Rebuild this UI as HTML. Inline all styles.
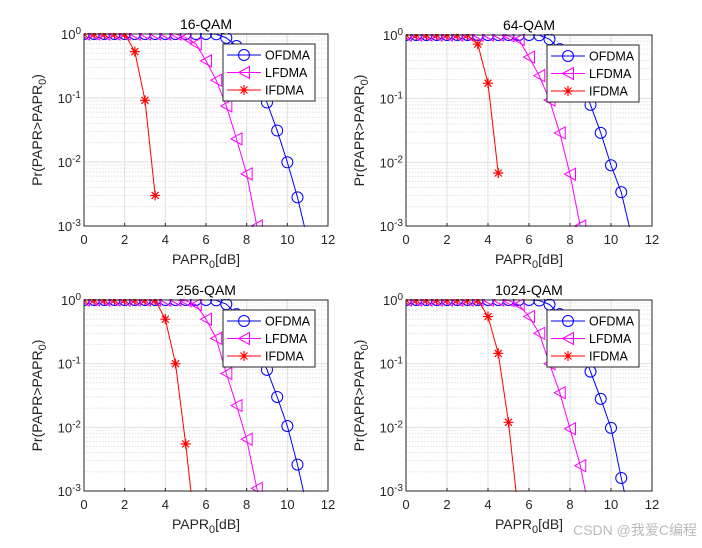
<!DOCTYPE html>
<html><head><meta charset="utf-8"><style>
html,body{margin:0;padding:0;background:#fff;}
svg{display:block;font-family:"Liberation Sans","Noto Sans CJK SC",sans-serif;}
</style></head><body>
<svg id="chart" width="702" height="548" viewBox="0 0 702 548" xmlns="http://www.w3.org/2000/svg"></svg>
<script>
const xVals = [0,0.5,1,1.5,2,2.5,3,3.5,4,4.5,5,5.5,6,6.5,7,7.5,8,8.5,9,9.5,10,10.5,11];
const titles = ["16-QAM","64-QAM","256-QAM","1024-QAM"];
const seriesNames = ["OFDMA","LFDMA","IFDMA"];
const ofdma16 = [1,1,1,1,1,1,1,1,1,1,1,1,1,0.99,0.87,0.65,0.42,0.2,0.085,0.031,0.0099,0.0028,0.0006];
const lfdma16 = [1,1,1,1,1,1,1,1,1,1,0.88,0.7,0.38,0.19,0.075,0.023,0.0065,0.001];
const ifdma16 = [1,1,1,1,1,0.53,0.092,0.003];
const ofdma64 = [1,1,1,1,1,1,1,1,1,1,1,1,1,0.99,0.86,0.6,0.4,0.2,0.08,0.029,0.009,0.0034,0.0007];
const lfdma64 = [1,1,1,1,1,1,1,1,1,1,0.97,0.85,0.45,0.23,0.095,0.029,0.0065,0.001];
const ifdma64 = [1,1,1,1,1,1,1,0.72,0.175,0.0068];
const ofdma256 = [1,1,1,1,1,1,1,1,1,1,1,1,1,0.99,0.86,0.6,0.4,0.2,0.08,0.03,0.0105,0.0026,0.0005];
const lfdma256 = [1,1,1,1,1,1,1,1,1,1,0.97,0.85,0.5,0.25,0.07,0.022,0.0065,0.0011,0.0002];
const ifdma256 = [1,1,1,1,1,1,1,1,0.5,0.1,0.0055,0.0002];
const ofdma1024 = [1,1,1,1,1,1,1,1,1,1,1,1,1,0.98,0.85,0.6,0.38,0.19,0.075,0.028,0.0098,0.0016,0.0003];
const lfdma1024 = [1,1,1,1,1,1,1,1,1,1,0.98,0.85,0.55,0.3,0.1,0.035,0.0095,0.0025,0.0004];
const ifdma1024 = [1,1,1,1,1,1,1,1,0.55,0.145,0.012,0.0004];
const xTicks = [0,2,4,6,8,10,12];
const yExps = [0,-1,-2,-3];

const panels = [
 {x0:84,x1:328,y0:34,y1:226,data:[ofdma16,lfdma16,ifdma16]},
 {x0:406,x1:652,y0:35,y1:226,data:[ofdma64,lfdma64,ifdma64]},
 {x0:84,x1:328,y0:300,y1:491,data:[ofdma256,lfdma256,ifdma256]},
 {x0:406,x1:652,y0:300,y1:491,data:[ofdma1024,lfdma1024,ifdma1024]}
];
const colors = ["#0000ff","#ff00ff","#ff0000"];
const NS = "http://www.w3.org/2000/svg";
const svg = document.getElementById('chart');
function mk(tag, attrs, parent){const e=document.createElementNS(NS,tag);for(const k in attrs)e.setAttribute(k,attrs[k]);(parent||svg).appendChild(e);return e;}

function marker(g, kind, cx, cy, col){
  let m;
  if(kind===0){m=mk('circle',{cx:cx,cy:cy,r:5.5,fill:'none',stroke:col,'stroke-width':1},g);}
  else if(kind===1){m=mk('polygon',{points:`${cx-5.5},${cy} ${cx+5.5},${cy-6} ${cx+5.5},${cy+6}`,fill:'none',stroke:col,'stroke-width':1},g);}
  else {m=mk('path',{d:`M${cx-5} ${cy}H${cx+5}M${cx} ${cy-5}V${cy+5}M${cx-3.5} ${cy-3.5}L${cx+3.5} ${cy+3.5}M${cx-3.5} ${cy+3.5}L${cx+3.5} ${cy-3.5}`,stroke:col,'stroke-width':1.2},g);}
  
  
}

panels.forEach((p,pi)=>{
  const xs = v=>p.x0+(v/12)*(p.x1-p.x0);
  const ys = v=>p.y0+(-Math.log10(v)/3)*(p.y1-p.y0);
  const g = mk('g',{});
  
  
  const cid='clip'+pi;
  const cp=mk('clipPath',{id:cid},g);
  mk('rect',{x:p.x0,y:p.y0-1,width:p.x1-p.x0,height:p.y1-p.y0+2},cp);
  mk('rect',{x:p.x0,y:p.y0,width:p.x1-p.x0,height:p.y1-p.y0,fill:'#fff'},g);
  for(let e=0;e>-3;e--){for(let k=2;k<=9;k++){const y=ys(k*Math.pow(10,e-1));
    const l=mk('line',{x1:p.x0,x2:p.x1,y1:y,y2:y,stroke:'#dcdcdc','stroke-width':0.8,'stroke-dasharray':'1.5,1.5'},g);
    }}
  xTicks.forEach(t=>{const x=xs(t);
    const l=mk('line',{x1:x,x2:x,y1:p.y0,y2:p.y1,stroke:'#dfdfdf','stroke-width':1},g);
    
    mk('line',{x1:x,x2:x,y1:p.y1,y2:p.y1-3,stroke:'#262626'},g);
    const tx=mk('text',{x:x,y:p.y1+18,'text-anchor':'middle','font-size':13,fill:'#262626'},g);tx.textContent=t;
    });
  yExps.forEach(e=>{const y=ys(Math.pow(10,e));
    const l=mk('line',{x1:p.x0,x2:p.x1,y1:y,y2:y,stroke:'#dfdfdf','stroke-width':1},g);
    
    const tx=mk('text',{x:p.x0-3,y:y+5,'text-anchor':'end','font-size':13,fill:'#262626'},g);
    tx.innerHTML='10<tspan dy="-5" font-size="10">'+e+'</tspan>';
    });
  p.data.forEach((arr,si)=>{
    const sg=mk('g',{'clip-path':`url(#${cid})`},g);
    
    
    const pts=arr.map((v,i)=>xs(xVals[i]).toFixed(2)+','+ys(v).toFixed(2)).join(' ');
    mk('polyline',{points:pts,fill:'none',stroke:colors[si],'stroke-width':1},sg);
    arr.forEach((v,i)=>{if(v>=0.00095) marker(sg,si,xs(xVals[i]),ys(v),colors[si]);});
  });
  const fr=mk('rect',{x:p.x0,y:p.y0,width:p.x1-p.x0,height:p.y1-p.y0,fill:'none',stroke:'#262626','stroke-width':1},g);
  
  const tt=mk('text',{x:(p.x0+p.x1)/2,y:p.y0-5,'text-anchor':'middle','font-size':14,fill:'#000'},g);
  tt.textContent=titles[pi];
  const xl=mk('text',{x:(p.x0+p.x1)/2,y:p.y1+38,'text-anchor':'middle','font-size':14,fill:'#262626'},g);
  xl.innerHTML='PAPR<tspan dy="4" font-size="11">0</tspan><tspan dy="-4">[dB]</tspan>';
  
  const yl=mk('text',{transform:`translate(${p.x0-42},${(p.y0+p.y1)/2}) rotate(-90)`,'text-anchor':'middle','font-size':14,fill:'#262626'},g);
  yl.innerHTML='Pr(PAPR&gt;PAPR<tspan dy="4" font-size="11">0</tspan><tspan dy="-4">)</tspan>';
  
  const lx=p.x1-105, ly=p.y0+10;
  const lg=mk('g',{},g);
  
  mk('rect',{x:lx,y:ly,width:92,height:57,fill:'#fff',stroke:'#262626','stroke-width':1},lg);
  seriesNames.forEach((n,si)=>{const yy=ly+11+si*17.5;
    const eg=mk('g',{},lg);
    
    mk('line',{x1:lx+4,x2:lx+38,y1:yy,y2:yy,stroke:colors[si],'stroke-width':1},eg);
    marker(eg,si,lx+21,yy,colors[si]);
    const t=mk('text',{x:lx+42,y:yy+4.5,'font-size':12.5,fill:'#000'},eg);t.textContent=n;});
});
const wm=mk('text',{x:697,y:535,'text-anchor':'end','font-size':14,fill:'#bbb'});
wm.textContent='CSDN @我爱C编程';

</script>
</body></html>
